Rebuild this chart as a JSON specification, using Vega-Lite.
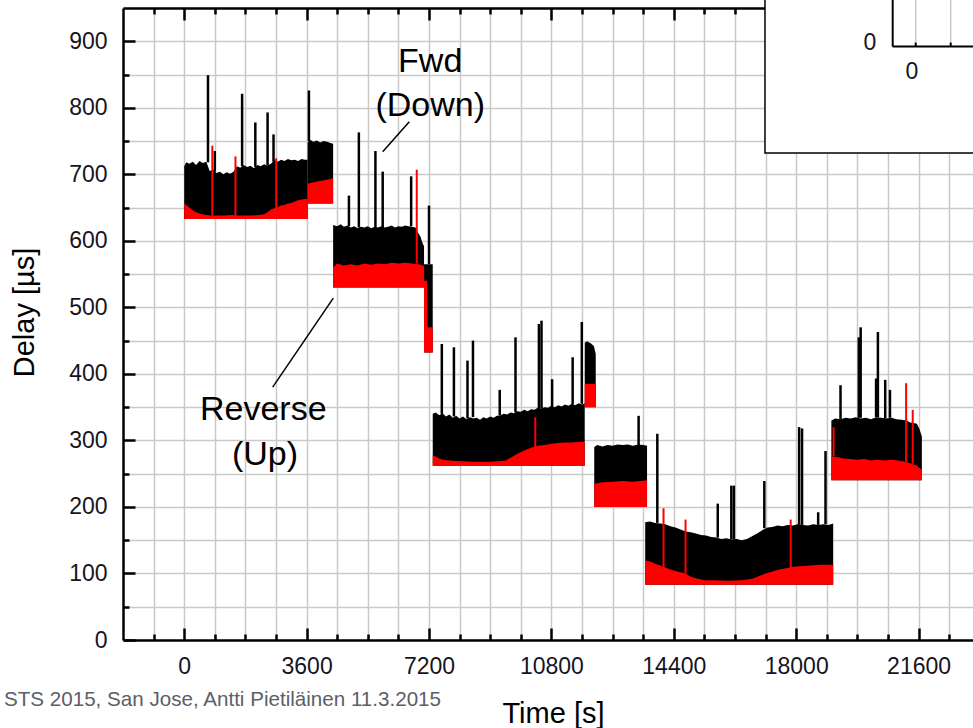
{
"$schema": "https://vega.github.io/schema/vega-lite/v6.json",
"width": 850, "height": 632,
"autosize": {"type": "none"},
"padding": {"left": 123, "top": 8, "right": 0, "bottom": 88},
"background": "white",
"view": {"stroke": null},
"config": {"font": "Liberation Sans"},
"datasets": {
"fwd": [
{"seg":"A","t":0,"lo":633,"hi":712},{"seg":"A","t":60,"lo":633,"hi":718},{"seg":"A","t":150,"lo":633,"hi":716},{"seg":"A","t":250,"lo":633,"hi":719},{"seg":"A","t":350,"lo":633,"hi":714},{"seg":"A","t":450,"lo":633,"hi":720},{"seg":"A","t":550,"lo":633,"hi":717},{"seg":"A","t":650,"lo":633,"hi":719},{"seg":"A","t":750,"lo":633,"hi":705},{"seg":"A","t":850,"lo":633,"hi":707},{"seg":"A","t":950,"lo":633,"hi":702},{"seg":"A","t":1050,"lo":633,"hi":704},{"seg":"A","t":1150,"lo":633,"hi":700},{"seg":"A","t":1250,"lo":633,"hi":703},{"seg":"A","t":1350,"lo":633,"hi":701},{"seg":"A","t":1450,"lo":633,"hi":704},{"seg":"A","t":1550,"lo":633,"hi":712},{"seg":"A","t":1650,"lo":633,"hi":710},{"seg":"A","t":1750,"lo":633,"hi":714},{"seg":"A","t":1850,"lo":633,"hi":711},{"seg":"A","t":1950,"lo":633,"hi":713},{"seg":"A","t":2050,"lo":633,"hi":709},{"seg":"A","t":2150,"lo":633,"hi":714},{"seg":"A","t":2250,"lo":633,"hi":712},{"seg":"A","t":2350,"lo":633,"hi":715},{"seg":"A","t":2450,"lo":633,"hi":713},{"seg":"A","t":2550,"lo":633,"hi":716},{"seg":"A","t":2650,"lo":633,"hi":721},{"seg":"A","t":2750,"lo":633,"hi":719},{"seg":"A","t":2850,"lo":633,"hi":722},{"seg":"A","t":2950,"lo":633,"hi":720},{"seg":"A","t":3050,"lo":633,"hi":723},{"seg":"A","t":3150,"lo":633,"hi":721},{"seg":"A","t":3250,"lo":633,"hi":722},{"seg":"A","t":3350,"lo":633,"hi":720},{"seg":"A","t":3450,"lo":633,"hi":723},{"seg":"A","t":3550,"lo":633,"hi":722},{"seg":"A","t":3630,"lo":633,"hi":722},
{"seg":"B","t":3630,"lo":656,"hi":748},{"seg":"B","t":3700,"lo":656,"hi":752},{"seg":"B","t":3800,"lo":656,"hi":749},{"seg":"B","t":3900,"lo":656,"hi":751},{"seg":"B","t":4000,"lo":656,"hi":748},{"seg":"B","t":4100,"lo":656,"hi":750},{"seg":"B","t":4200,"lo":656,"hi":749},{"seg":"B","t":4300,"lo":656,"hi":747},{"seg":"B","t":4380,"lo":656,"hi":746},
{"seg":"C","t":4380,"lo":530,"hi":624},{"seg":"C","t":4500,"lo":530,"hi":622},{"seg":"C","t":4600,"lo":530,"hi":625},{"seg":"C","t":4700,"lo":530,"hi":621},{"seg":"C","t":4800,"lo":530,"hi":623},{"seg":"C","t":4900,"lo":530,"hi":620},{"seg":"C","t":5000,"lo":530,"hi":622},{"seg":"C","t":5100,"lo":530,"hi":619},{"seg":"C","t":5200,"lo":530,"hi":621},{"seg":"C","t":5300,"lo":530,"hi":620},{"seg":"C","t":5400,"lo":530,"hi":622},{"seg":"C","t":5500,"lo":530,"hi":619},{"seg":"C","t":5600,"lo":530,"hi":621},{"seg":"C","t":5700,"lo":530,"hi":620},{"seg":"C","t":5800,"lo":530,"hi":622},{"seg":"C","t":5900,"lo":530,"hi":620},{"seg":"C","t":6000,"lo":530,"hi":621},{"seg":"C","t":6100,"lo":530,"hi":623},{"seg":"C","t":6200,"lo":530,"hi":620},{"seg":"C","t":6300,"lo":530,"hi":622},{"seg":"C","t":6400,"lo":530,"hi":621},{"seg":"C","t":6500,"lo":530,"hi":623},{"seg":"C","t":6600,"lo":530,"hi":622},{"seg":"C","t":6700,"lo":530,"hi":621},{"seg":"C","t":6800,"lo":530,"hi":620},{"seg":"C","t":6880,"lo":530,"hi":612},{"seg":"C","t":6950,"lo":530,"hi":606},{"seg":"C","t":7000,"lo":530,"hi":598},{"seg":"C","t":7054,"lo":530,"hi":592},
{"seg":"D","t":7054,"lo":432,"hi":565},{"seg":"D","t":7310,"lo":432,"hi":565},
{"seg":"E","t":7310,"lo":262,"hi":340},{"seg":"E","t":7400,"lo":262,"hi":342},{"seg":"E","t":7500,"lo":262,"hi":338},{"seg":"E","t":7600,"lo":262,"hi":341},{"seg":"E","t":7700,"lo":262,"hi":336},{"seg":"E","t":7800,"lo":262,"hi":339},{"seg":"E","t":7900,"lo":262,"hi":334},{"seg":"E","t":8000,"lo":262,"hi":337},{"seg":"E","t":8100,"lo":262,"hi":333},{"seg":"E","t":8200,"lo":262,"hi":336},{"seg":"E","t":8300,"lo":262,"hi":332},{"seg":"E","t":8400,"lo":262,"hi":335},{"seg":"E","t":8500,"lo":262,"hi":333},{"seg":"E","t":8600,"lo":262,"hi":334},{"seg":"E","t":8700,"lo":262,"hi":331},{"seg":"E","t":8800,"lo":262,"hi":335},{"seg":"E","t":8900,"lo":262,"hi":333},{"seg":"E","t":9000,"lo":262,"hi":336},{"seg":"E","t":9100,"lo":262,"hi":334},{"seg":"E","t":9200,"lo":262,"hi":337},{"seg":"E","t":9300,"lo":262,"hi":338},{"seg":"E","t":9400,"lo":262,"hi":340},{"seg":"E","t":9500,"lo":262,"hi":339},{"seg":"E","t":9600,"lo":262,"hi":342},{"seg":"E","t":9700,"lo":262,"hi":341},{"seg":"E","t":9800,"lo":262,"hi":344},{"seg":"E","t":9900,"lo":262,"hi":343},{"seg":"E","t":10000,"lo":262,"hi":346},{"seg":"E","t":10100,"lo":262,"hi":344},{"seg":"E","t":10200,"lo":262,"hi":347},{"seg":"E","t":10300,"lo":262,"hi":346},{"seg":"E","t":10400,"lo":262,"hi":349},{"seg":"E","t":10500,"lo":262,"hi":348},{"seg":"E","t":10600,"lo":262,"hi":350},{"seg":"E","t":10700,"lo":262,"hi":349},{"seg":"E","t":10800,"lo":262,"hi":352},{"seg":"E","t":10900,"lo":262,"hi":350},{"seg":"E","t":11000,"lo":262,"hi":353},{"seg":"E","t":11100,"lo":262,"hi":351},{"seg":"E","t":11200,"lo":262,"hi":354},{"seg":"E","t":11300,"lo":262,"hi":352},{"seg":"E","t":11400,"lo":262,"hi":355},{"seg":"E","t":11500,"lo":262,"hi":353},{"seg":"E","t":11600,"lo":262,"hi":356},{"seg":"E","t":11700,"lo":262,"hi":354},{"seg":"E","t":11780,"lo":262,"hi":356},
{"seg":"F","t":11780,"lo":350,"hi":447},{"seg":"F","t":11850,"lo":350,"hi":449},{"seg":"F","t":11950,"lo":350,"hi":446},{"seg":"F","t":12050,"lo":350,"hi":442},{"seg":"F","t":12104,"lo":350,"hi":430},
{"seg":"G","t":12060,"lo":200,"hi":290},{"seg":"G","t":12150,"lo":200,"hi":293},{"seg":"G","t":12300,"lo":200,"hi":291},{"seg":"G","t":12450,"lo":200,"hi":293},{"seg":"G","t":12600,"lo":200,"hi":292},{"seg":"G","t":12750,"lo":200,"hi":294},{"seg":"G","t":12900,"lo":200,"hi":293},{"seg":"G","t":13050,"lo":200,"hi":294},{"seg":"G","t":13200,"lo":200,"hi":292},{"seg":"G","t":13350,"lo":200,"hi":294},{"seg":"G","t":13500,"lo":200,"hi":293},{"seg":"G","t":13613,"lo":200,"hi":292},
{"seg":"H","t":13559,"lo":83,"hi":177},{"seg":"H","t":13700,"lo":83,"hi":178},{"seg":"H","t":13850,"lo":83,"hi":176},{"seg":"H","t":14000,"lo":83,"hi":175},{"seg":"H","t":14150,"lo":83,"hi":174},{"seg":"H","t":14300,"lo":83,"hi":171},{"seg":"H","t":14450,"lo":83,"hi":169},{"seg":"H","t":14600,"lo":83,"hi":166},{"seg":"H","t":14750,"lo":83,"hi":163},{"seg":"H","t":14900,"lo":83,"hi":162},{"seg":"H","t":15050,"lo":83,"hi":160},{"seg":"H","t":15200,"lo":83,"hi":158},{"seg":"H","t":15350,"lo":83,"hi":157},{"seg":"H","t":15500,"lo":83,"hi":155},{"seg":"H","t":15650,"lo":83,"hi":154},{"seg":"H","t":15800,"lo":83,"hi":152},{"seg":"H","t":15950,"lo":83,"hi":153},{"seg":"H","t":16100,"lo":83,"hi":151},{"seg":"H","t":16250,"lo":83,"hi":152},{"seg":"H","t":16400,"lo":83,"hi":150},{"seg":"H","t":16550,"lo":83,"hi":152},{"seg":"H","t":16700,"lo":83,"hi":156},{"seg":"H","t":16850,"lo":83,"hi":160},{"seg":"H","t":17000,"lo":83,"hi":165},{"seg":"H","t":17150,"lo":83,"hi":169},{"seg":"H","t":17300,"lo":83,"hi":170},{"seg":"H","t":17450,"lo":83,"hi":172},{"seg":"H","t":17600,"lo":83,"hi":171},{"seg":"H","t":17750,"lo":83,"hi":173},{"seg":"H","t":17900,"lo":83,"hi":172},{"seg":"H","t":18050,"lo":83,"hi":174},{"seg":"H","t":18200,"lo":83,"hi":173},{"seg":"H","t":18350,"lo":83,"hi":172},{"seg":"H","t":18500,"lo":83,"hi":174},{"seg":"H","t":18650,"lo":83,"hi":173},{"seg":"H","t":18800,"lo":83,"hi":174},{"seg":"H","t":18950,"lo":83,"hi":173},{"seg":"H","t":19088,"lo":83,"hi":175},
{"seg":"I","t":19034,"lo":240,"hi":330},{"seg":"I","t":19150,"lo":240,"hi":333},{"seg":"I","t":19300,"lo":240,"hi":332},{"seg":"I","t":19450,"lo":240,"hi":334},{"seg":"I","t":19600,"lo":240,"hi":333},{"seg":"I","t":19750,"lo":240,"hi":335},{"seg":"I","t":19900,"lo":240,"hi":333},{"seg":"I","t":20050,"lo":240,"hi":334},{"seg":"I","t":20200,"lo":240,"hi":332},{"seg":"I","t":20350,"lo":240,"hi":335},{"seg":"I","t":20500,"lo":240,"hi":334},{"seg":"I","t":20650,"lo":240,"hi":333},{"seg":"I","t":20800,"lo":240,"hi":334},{"seg":"I","t":20950,"lo":240,"hi":332},{"seg":"I","t":21100,"lo":240,"hi":331},{"seg":"I","t":21250,"lo":240,"hi":330},{"seg":"I","t":21350,"lo":240,"hi":327},{"seg":"I","t":21450,"lo":240,"hi":326},{"seg":"I","t":21550,"lo":240,"hi":325},{"seg":"I","t":21620,"lo":240,"hi":318},{"seg":"I","t":21696,"lo":240,"hi":306}
],
"rev": [
{"seg":"A","t":0,"lo":633,"hi":656},{"seg":"A","t":60,"lo":633,"hi":654},{"seg":"A","t":150,"lo":633,"hi":650},{"seg":"A","t":250,"lo":633,"hi":646},{"seg":"A","t":350,"lo":633,"hi":643},{"seg":"A","t":450,"lo":633,"hi":641},{"seg":"A","t":550,"lo":633,"hi":640},{"seg":"A","t":650,"lo":633,"hi":639},{"seg":"A","t":800,"lo":633,"hi":638},{"seg":"A","t":1000,"lo":633,"hi":638},{"seg":"A","t":1200,"lo":633,"hi":638},{"seg":"A","t":1400,"lo":633,"hi":639},{"seg":"A","t":1600,"lo":633,"hi":638},{"seg":"A","t":1800,"lo":633,"hi":638},{"seg":"A","t":2000,"lo":633,"hi":638},{"seg":"A","t":2200,"lo":633,"hi":639},{"seg":"A","t":2350,"lo":633,"hi":640},{"seg":"A","t":2450,"lo":633,"hi":643},{"seg":"A","t":2550,"lo":633,"hi":647},{"seg":"A","t":2650,"lo":633,"hi":649},{"seg":"A","t":2750,"lo":633,"hi":651},{"seg":"A","t":2850,"lo":633,"hi":653},{"seg":"A","t":2950,"lo":633,"hi":654},{"seg":"A","t":3050,"lo":633,"hi":656},{"seg":"A","t":3150,"lo":633,"hi":657},{"seg":"A","t":3250,"lo":633,"hi":659},{"seg":"A","t":3350,"lo":633,"hi":661},{"seg":"A","t":3450,"lo":633,"hi":662},{"seg":"A","t":3550,"lo":633,"hi":663},{"seg":"A","t":3630,"lo":633,"hi":663},
{"seg":"B","t":3630,"lo":656,"hi":686},{"seg":"B","t":3800,"lo":656,"hi":688},{"seg":"B","t":4000,"lo":656,"hi":690},{"seg":"B","t":4200,"lo":656,"hi":692},{"seg":"B","t":4380,"lo":656,"hi":694},
{"seg":"C","t":4380,"lo":530,"hi":560},{"seg":"C","t":4500,"lo":530,"hi":566},{"seg":"C","t":4700,"lo":530,"hi":563},{"seg":"C","t":4900,"lo":530,"hi":565},{"seg":"C","t":5100,"lo":530,"hi":563},{"seg":"C","t":5300,"lo":530,"hi":566},{"seg":"C","t":5500,"lo":530,"hi":564},{"seg":"C","t":5700,"lo":530,"hi":566},{"seg":"C","t":5900,"lo":530,"hi":565},{"seg":"C","t":6100,"lo":530,"hi":567},{"seg":"C","t":6300,"lo":530,"hi":566},{"seg":"C","t":6500,"lo":530,"hi":567},{"seg":"C","t":6700,"lo":530,"hi":566},{"seg":"C","t":6900,"lo":530,"hi":565},{"seg":"C","t":7054,"lo":530,"hi":562},
{"seg":"D","t":7054,"lo":432,"hi":540},{"seg":"D","t":7140,"lo":432,"hi":540},{"seg":"D","t":7160,"lo":432,"hi":470},{"seg":"D","t":7310,"lo":432,"hi":470},
{"seg":"E","t":7310,"lo":262,"hi":278},{"seg":"E","t":7450,"lo":262,"hi":274},{"seg":"E","t":7600,"lo":262,"hi":271},{"seg":"E","t":7800,"lo":262,"hi":270},{"seg":"E","t":8000,"lo":262,"hi":269},{"seg":"E","t":8500,"lo":262,"hi":268},{"seg":"E","t":9000,"lo":262,"hi":268},{"seg":"E","t":9300,"lo":262,"hi":269},{"seg":"E","t":9460,"lo":262,"hi":270},{"seg":"E","t":9600,"lo":262,"hi":274},{"seg":"E","t":9800,"lo":262,"hi":280},{"seg":"E","t":10000,"lo":262,"hi":285},{"seg":"E","t":10200,"lo":262,"hi":289},{"seg":"E","t":10400,"lo":262,"hi":292},{"seg":"E","t":10600,"lo":262,"hi":293},{"seg":"E","t":10800,"lo":262,"hi":295},{"seg":"E","t":11000,"lo":262,"hi":296},{"seg":"E","t":11200,"lo":262,"hi":297},{"seg":"E","t":11400,"lo":262,"hi":297},{"seg":"E","t":11600,"lo":262,"hi":298},{"seg":"E","t":11780,"lo":262,"hi":298},
{"seg":"F","t":11780,"lo":350,"hi":385},{"seg":"F","t":12104,"lo":350,"hi":385},
{"seg":"G","t":12060,"lo":200,"hi":235},{"seg":"G","t":12300,"lo":200,"hi":237},{"seg":"G","t":12600,"lo":200,"hi":238},{"seg":"G","t":12900,"lo":200,"hi":239},{"seg":"G","t":13200,"lo":200,"hi":238},{"seg":"G","t":13613,"lo":200,"hi":240},
{"seg":"H","t":13559,"lo":83,"hi":120},{"seg":"H","t":13700,"lo":83,"hi":118},{"seg":"H","t":13900,"lo":83,"hi":114},{"seg":"H","t":14100,"lo":83,"hi":110},{"seg":"H","t":14300,"lo":83,"hi":106},{"seg":"H","t":14500,"lo":83,"hi":103},{"seg":"H","t":14745,"lo":83,"hi":100},{"seg":"H","t":14900,"lo":83,"hi":95},{"seg":"H","t":15100,"lo":83,"hi":92},{"seg":"H","t":15300,"lo":83,"hi":90},{"seg":"H","t":15600,"lo":83,"hi":90},{"seg":"H","t":16000,"lo":83,"hi":89},{"seg":"H","t":16400,"lo":83,"hi":90},{"seg":"H","t":16700,"lo":83,"hi":92},{"seg":"H","t":16900,"lo":83,"hi":96},{"seg":"H","t":17100,"lo":83,"hi":100},{"seg":"H","t":17300,"lo":83,"hi":103},{"seg":"H","t":17500,"lo":83,"hi":106},{"seg":"H","t":17700,"lo":83,"hi":108},{"seg":"H","t":17900,"lo":83,"hi":110},{"seg":"H","t":18100,"lo":83,"hi":111},{"seg":"H","t":18400,"lo":83,"hi":112},{"seg":"H","t":18700,"lo":83,"hi":113},{"seg":"H","t":19088,"lo":83,"hi":113},
{"seg":"I","t":19034,"lo":240,"hi":276},{"seg":"I","t":19200,"lo":240,"hi":275},{"seg":"I","t":19400,"lo":240,"hi":273},{"seg":"I","t":19600,"lo":240,"hi":272},{"seg":"I","t":19800,"lo":240,"hi":271},{"seg":"I","t":20000,"lo":240,"hi":272},{"seg":"I","t":20200,"lo":240,"hi":270},{"seg":"I","t":20400,"lo":240,"hi":271},{"seg":"I","t":20600,"lo":240,"hi":270},{"seg":"I","t":20800,"lo":240,"hi":271},{"seg":"I","t":21000,"lo":240,"hi":270},{"seg":"I","t":21200,"lo":240,"hi":268},{"seg":"I","t":21400,"lo":240,"hi":265},{"seg":"I","t":21550,"lo":240,"hi":262},{"seg":"I","t":21696,"lo":240,"hi":256}
],
"fwdSpikes": [
{"t":700,"base":718,"top":849},{"t":900,"base":704,"top":735},{"t":1703,"base":712,"top":821},{"t":2092,"base":711,"top":778},{"t":2452,"base":713,"top":793},{"t":2627,"base":719,"top":760},{"t":3668,"base":750,"top":826},
{"t":4845,"base":622,"top":668},{"t":5137,"base":620,"top":763},{"t":5624,"base":620,"top":735},{"t":5838,"base":620,"top":704},{"t":6675,"base":622,"top":697},{"t":7200,"base":565,"top":653},
{"t":7577,"base":340,"top":445},{"t":7933,"base":336,"top":440},{"t":8332,"base":333,"top":420},{"t":8493,"base":335,"top":450},{"t":9280,"base":338,"top":376},{"t":9744,"base":342,"top":455},{"t":10433,"base":348,"top":475},{"t":10509,"base":348,"top":480},{"t":10821,"base":350,"top":392},{"t":11425,"base":354,"top":425},{"t":11694,"base":355,"top":478},
{"t":13365,"base":293,"top":337},
{"t":13915,"base":176,"top":310},{"t":15693,"base":154,"top":205},{"t":16092,"base":151,"top":232},{"t":16167,"base":151,"top":232},{"t":17062,"base":168,"top":239},{"t":18086,"base":173,"top":320},{"t":18172,"base":173,"top":318},{"t":18646,"base":173,"top":192},{"t":18862,"base":174,"top":284},
{"t":19303,"base":332,"top":383},{"t":19842,"base":334,"top":455},{"t":19896,"base":334,"top":470},{"t":20349,"base":335,"top":393},{"t":20403,"base":335,"top":463},{"t":20618,"base":333,"top":391},{"t":20758,"base":334,"top":376}
],
"revSpikes": [
{"t":827,"base":638,"top":743},{"t":1508,"base":638,"top":727},{"t":2705,"base":650,"top":724},{"t":6840,"base":566,"top":707},{"t":10326,"base":290,"top":335},{"t":14098,"base":110,"top":198},{"t":14745,"base":100,"top":181},{"t":17838,"base":109,"top":181},{"t":19100,"base":276,"top":320},{"t":21233,"base":268,"top":386},{"t":21427,"base":265,"top":346}
],
"insetBox": [{"x1":17082,"x2":23800,"y1":732,"y2":980}],
"insetGrid": [{"t":21515,"v":892,"t2":21515,"v2":980},{"t":22544,"v":892,"t2":22544,"v2":980}],
"insetLines": [{"t":20838,"v":892,"t2":20838,"v2":980},{"t":20838,"v":892,"t2":23800,"v2":892},{"t":21515,"v":892,"t2":21515,"v2":898},{"t":22544,"v":892,"t2":22544,"v2":898}],
"insetText": [{"label":"0","t":20170,"v":897},{"label":"0","t":21406,"v":854}],
"notes": [{"label":"Fwd","t":7235,"v":854},{"label":"(Down)","t":7235,"v":788},{"label":"Reverse","t":2326,"v":331},{"label":"(Up)","t":2376,"v":263}],
"leaders": [{"t":6621,"v":779,"t2":5838,"v2":734},{"t":4385,"v":514,"t2":2603,"v2":380}],
"footer": [{"label":"STS 2015, San Jose, Antti Pietiläinen 11.3.2015","t":7553,"v":-99}]
},
"layer": [
{"data": {"name": "fwd"},
 "mark": {"type": "area", "color": "#000000", "interpolate": "linear"},
 "encoding": {
  "x": {"field": "t", "type": "quantitative", "scale": {"domain": [-1800, 23200], "nice": false, "zero": false},
        "axis": {"orient": "bottom", "values": [-900,0,900,1800,2700,3600,4500,5400,6300,7200,8100,9000,9900,10800,11700,12600,13500,14400,15300,16200,17100,18000,18900,19800,20700,21600,22500],
                 "grid": true, "gridColor": "#c9c9c9", "gridWidth": 1.5, "ticks": false, "labels": false, "domain": false, "title": null, "zindex": 0}},
  "y": {"field": "hi", "type": "quantitative", "scale": {"domain": [0, 950], "nice": false, "zero": false},
        "axis": {"orient": "left", "values": [50,100,150,200,250,300,350,400,450,500,550,600,650,700,750,800,850,900],
                 "grid": true, "gridColor": "#c9c9c9", "gridWidth": 1.5, "ticks": false, "labels": false, "domain": false, "title": null, "zindex": 0}},
  "y2": {"field": "lo"},
  "detail": {"field": "seg"}
 }},
{"data": {"name": "fwdSpikes"},
 "mark": {"type": "rule", "color": "#000000", "strokeWidth": 2.5},
 "encoding": {
  "x": {"field": "t", "type": "quantitative",
        "axis": {"orient": "bottom", "values": [-900,900,1800,2700,4500,5400,6300,8100,9000,9900,11700,12600,13500,15300,16200,17100,18900,19800,20700,22500],
                 "grid": false, "tickSize": -6, "tickWidth": 2.5, "tickColor": "#000000", "labels": false, "domain": false, "title": null, "zindex": 0}},
  "y": {"field": "base", "type": "quantitative",
        "axis": {"orient": "left", "values": [50,150,250,350,450,550,650,750,850],
                 "grid": false, "tickSize": -6, "tickWidth": 2.5, "tickColor": "#000000", "labels": false, "domain": false, "title": null, "zindex": 0}},
  "y2": {"field": "top"}
 }},
{"data": {"name": "rev"},
 "mark": {"type": "area", "color": "#ff0000", "interpolate": "linear"},
 "encoding": {
  "x": {"field": "t", "type": "quantitative",
        "axis": {"orient": "bottom", "values": [0,3600,7200,10800,14400,18000,21600], "format": "d",
                 "grid": false, "tickSize": -12, "tickWidth": 2.5, "tickColor": "#000000",
                 "domain": true, "domainColor": "#000000", "domainWidth": 2.5,
                 "labelFont": "Liberation Sans", "labelFontSize": 23, "labelColor": "#15151f", "labelPadding": 45, "labelBaseline": "alphabetic", "labelAlign": "center", "labelFlush": false, "labelOverlap": false,
                 "title": "Time [s]", "titleFont": "Liberation Sans", "titleFontSize": 29, "titleFontWeight": "normal", "titleColor": "#000000",
                 "titleBaseline": "alphabetic", "titleAlign": "center", "titleX": 430, "titleY": 82, "zindex": 0}},
  "y": {"field": "hi", "type": "quantitative",
        "axis": {"orient": "left", "values": [0,100,200,300,400,500,600,700,800,900],
                 "grid": false, "tickSize": -12, "tickWidth": 2.5, "tickColor": "#000000",
                 "domain": true, "domainColor": "#000000", "domainWidth": 2.5,
                 "labelFont": "Liberation Sans", "labelFontSize": 23, "labelColor": "#15151f", "labelPadding": 28, "labelAlign": "right", "labelBaseline": "middle", "labelFlush": false, "labelOverlap": false,
                 "title": "Delay [µs]", "titleFont": "Liberation Sans", "titleFontSize": 29, "titleFontWeight": "normal", "titleColor": "#000000",
                 "titleBaseline": "alphabetic", "titleAlign": "center", "titleAngle": 270, "titleX": -90, "titleY": 304, "zindex": 0}},
  "y2": {"field": "lo"},
  "detail": {"field": "seg"}
 }},
{"data": {"name": "revSpikes"},
 "mark": {"type": "rule", "color": "#ff0000", "strokeWidth": 2},
 "encoding": {
  "x": {"field": "t", "type": "quantitative",
        "axis": {"orient": "top", "values": [0,3600,7200,10800,14400,18000,21600],
                 "grid": false, "tickSize": -12, "tickWidth": 2.5, "tickColor": "#000000", "labels": false,
                 "domain": true, "domainColor": "#000000", "domainWidth": 2.5, "title": null, "zindex": 0}},
  "y": {"field": "base", "type": "quantitative", "axis": null},
  "y2": {"field": "top"}
 }},
{"data": {"name": "insetBox"},
 "mark": {"type": "rect", "fill": "#ffffff", "stroke": "#000000", "strokeWidth": 1.5},
 "encoding": {
  "x": {"field": "x1", "type": "quantitative",
        "axis": {"orient": "top", "values": [-900,900,1800,2700,4500,5400,6300,8100,9000,9900,11700,12600,13500,15300,16200,17100,18900,19800,20700,22500],
                 "grid": false, "tickSize": -6, "tickWidth": 2.5, "tickColor": "#000000", "labels": false, "domain": false, "title": null, "zindex": 0}},
  "x2": {"field": "x2"},
  "y": {"field": "y1", "type": "quantitative", "axis": null},
  "y2": {"field": "y2"}
 }},
{"data": {"name": "insetGrid"},
 "mark": {"type": "rule", "color": "#c9c9c9", "strokeWidth": 1.5},
 "encoding": {
  "x": {"field": "t", "type": "quantitative", "axis": null},
  "x2": {"field": "t2"},
  "y": {"field": "v", "type": "quantitative", "axis": null},
  "y2": {"field": "v2"}
 }},
{"data": {"name": "insetLines"},
 "mark": {"type": "rule", "color": "#000000", "strokeWidth": 2},
 "encoding": {
  "x": {"field": "t", "type": "quantitative", "axis": null},
  "x2": {"field": "t2"},
  "y": {"field": "v", "type": "quantitative", "axis": null},
  "y2": {"field": "v2"}
 }},
{"data": {"name": "insetText"},
 "mark": {"type": "text", "font": "Liberation Sans", "fontSize": 23, "color": "#15151f", "align": "center", "baseline": "middle"},
 "encoding": {
  "x": {"field": "t", "type": "quantitative", "axis": null},
  "y": {"field": "v", "type": "quantitative", "axis": null},
  "text": {"field": "label"}
 }},
{"data": {"name": "leaders"},
 "mark": {"type": "rule", "color": "#000000", "strokeWidth": 1.5},
 "encoding": {
  "x": {"field": "t", "type": "quantitative", "axis": null},
  "x2": {"field": "t2"},
  "y": {"field": "v", "type": "quantitative", "axis": null},
  "y2": {"field": "v2"}
 }},
{"data": {"name": "notes"},
 "mark": {"type": "text", "font": "Liberation Sans", "fontSize": 34, "color": "#000000", "align": "center", "baseline": "alphabetic"},
 "encoding": {
  "x": {"field": "t", "type": "quantitative", "axis": null},
  "y": {"field": "v", "type": "quantitative", "axis": null},
  "text": {"field": "label"}
 }},
{"data": {"name": "footer"},
 "mark": {"type": "text", "font": "Liberation Sans", "fontSize": 20.6, "color": "#5a6068", "align": "right", "baseline": "alphabetic"},
 "encoding": {
  "x": {"field": "t", "type": "quantitative", "axis": null},
  "y": {"field": "v", "type": "quantitative", "axis": null},
  "text": {"field": "label"}
 }}
],
"resolve": {"axis": {"x": "independent", "y": "independent"}}
}
